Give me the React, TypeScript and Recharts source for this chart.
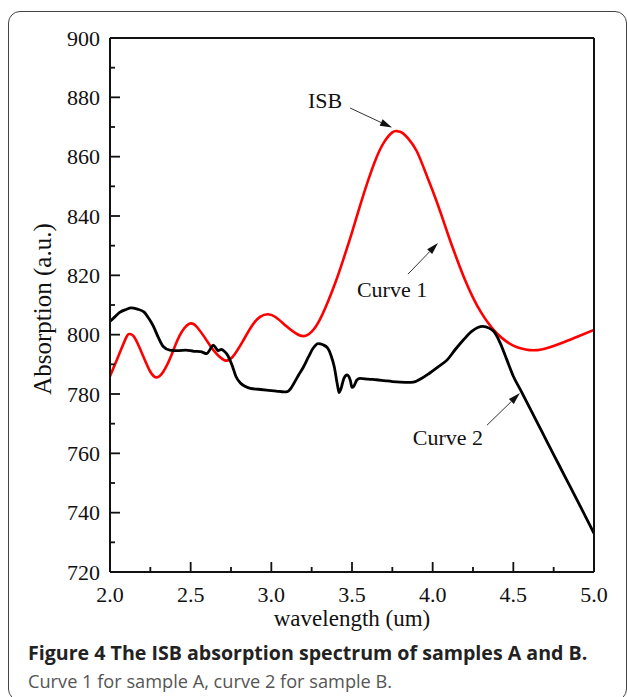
import React from "react";
import { LineChart, Line, XAxis, YAxis, ReferenceLine, ReferenceDot } from "recharts";

// curve 1 (sample A), red
const curve1Wavelength = [
  2.0, 2.05, 2.1, 2.12, 2.15, 2.2, 2.25, 2.29, 2.33, 2.38, 2.43, 2.49, 2.54, 2.6, 2.65, 2.71,
  2.76, 2.82, 2.88, 2.93, 2.98, 3.03, 3.09, 3.15, 3.2, 3.25, 3.3, 3.35, 3.4, 3.45, 3.5, 3.55,
  3.6, 3.65, 3.7, 3.75, 3.78, 3.81, 3.85, 3.9, 3.95, 4.0, 4.05, 4.1, 4.15, 4.2, 4.25, 4.3,
  4.35, 4.4, 4.45, 4.5, 4.55, 4.6, 4.65, 4.7, 4.8, 4.9, 5.0,
];
const curve1Absorption = [
  786, 792.5, 799, 800.2, 799.2, 793.5, 787.5, 785.6, 787.5, 793, 799.5, 803.6, 802.5, 798, 794.2, 791.4,
  792.5, 797.5, 803, 806, 806.9, 805.8, 803, 800.5, 799.5, 801, 805, 811, 818, 826, 834.5, 843.5,
  852, 859.5, 865, 868.2, 868.6, 868.1, 866, 862, 855.5, 848.5, 841, 833, 825.5, 818.5, 812.5, 807.5,
  803.5, 800.3, 798, 796.3, 795.3, 794.8, 794.8, 795.3, 797.2, 799.4, 801.6,
];

// curve 2 (sample B), black
const curve2Wavelength = [
  2.0, 2.03, 2.06, 2.1, 2.13, 2.17, 2.21, 2.24, 2.27, 2.3, 2.33, 2.37, 2.42, 2.47, 2.52, 2.56,
  2.6, 2.62, 2.64, 2.66, 2.67, 2.69, 2.71, 2.73, 2.76, 2.78, 2.81, 2.84, 2.87, 2.92, 2.97, 3.03,
  3.08, 3.1, 3.12, 3.14, 3.17, 3.2, 3.23, 3.26, 3.29, 3.32, 3.35, 3.37, 3.39, 3.41, 3.42, 3.43,
  3.45, 3.47, 3.49, 3.5, 3.51, 3.53, 3.55, 3.6, 3.65, 3.7, 3.75, 3.8, 3.85, 3.88, 3.93, 3.98,
  4.03, 4.09, 4.14, 4.19, 4.24, 4.28, 4.31, 4.35, 4.38, 4.42, 4.46, 4.5, 4.55, 4.6, 4.65, 4.71,
  4.78, 4.85, 4.92, 5.0,
];
const curve2Absorption = [
  804.5, 806, 807.5, 808.5, 809, 808.6, 807.7, 805.5, 802.7, 799, 796, 794.8, 794.6, 794.8, 794.4, 794.3,
  793.6, 795, 796.5, 795.2, 794.6, 795, 794.3, 793, 789.2, 786, 783.6, 782.5, 781.9, 781.6, 781.3, 781,
  780.7, 780.8, 781.8, 783.6, 786.5, 789.2, 792.5, 795.5, 797, 796.6, 795.4, 793, 789.2, 783, 780.5, 781.5,
  785.3, 786.4, 784.5, 782.2, 782.5, 784.7, 785.3, 785, 784.8, 784.5, 784.2, 784, 783.9, 784, 785.2, 787,
  789, 791.5, 795, 798.2, 801, 802.4, 802.8, 802.2, 801, 797, 791.5, 786, 780.8, 775.5, 770.2, 763.8,
  756.4, 749, 741.6, 733,
];

const xTicks = [2, 2.25, 2.5, 2.75, 3, 3.25, 3.5, 3.75, 4, 4.25, 4.5, 4.75, 5];
const xLabels = [2, 2.5, 3, 3.5, 4, 4.5, 5];
const yTicks = [720, 730, 740, 750, 760, 770, 780, 790, 800, 810, 820, 830, 840, 850, 860, 870, 880, 890, 900];
const yLabels = [720, 740, 760, 780, 800, 820, 840, 860, 880, 900];

const curve1 = curve1Wavelength.map((w, i) => ({ w, v: curve1Absorption[i] }));
const curve2 = curve2Wavelength.map((w, i) => ({ w, v: curve2Absorption[i] }));

const SERIF = "'Liberation Serif', 'Times New Roman', serif";
const SANS = "'Open Sans', 'Noto Sans', sans-serif";

const XTick = (p: any) => {
  const { x, y, payload } = p;
  const major = xLabels.includes(payload.value);
  return (
    <g>
      <line x1={x} x2={x} y1={y} y2={y - (major ? 10 : 5)} stroke="#111" strokeWidth={1.8} />
      {major && (
        <text x={x} y={y + 22} textAnchor="middle" dominantBaseline="central" fontFamily={SERIF} fontSize={22} fill="#111">
          {payload.value.toFixed(1)}
        </text>
      )}
    </g>
  );
};

const YTick = (p: any) => {
  const { x, y, payload } = p;
  const major = yLabels.includes(payload.value);
  return (
    <g>
      <line x1={x} x2={x + (major ? 10 : 5)} y1={y} y2={y} stroke="#111" strokeWidth={1.8} />
      {major && (
        <text x={x - 10} y={y} textAnchor="end" dominantBaseline="central" fontFamily={SERIF} fontSize={22} fill="#111">
          {payload.value}
        </text>
      )}
    </g>
  );
};

const arrow = (p: any) => {
  const { x1, y1, x2, y2 } = p;
  const a = Math.atan2(y2 - y1, x2 - x1);
  const len = 12;
  const half = 3.5;
  const bx = x2 - len * Math.cos(a);
  const by = y2 - len * Math.sin(a);
  const nx = -Math.sin(a) * half;
  const ny = Math.cos(a) * half;
  return (
    <g>
      <line x1={x1} y1={y1} x2={bx} y2={by} stroke="#333" strokeWidth={1} />
      <polygon points={`${x2},${y2} ${bx + nx},${by + ny} ${bx - nx},${by - ny}`} fill="#111" />
    </g>
  );
};

const label = (text: string) => (p: any) => (
  <text x={p.cx} y={p.cy} textAnchor="middle" dominantBaseline="central" fontFamily={SERIF} fontSize={22} fill="#111">
    {text}
  </text>
);

const axisLine = { stroke: "#111", strokeWidth: 2 };

export default function App() {
  return (
    <div style={{ position: "absolute", left: 0, top: 0, width: 627, height: 697, overflow: "hidden", background: "#fff" }}>
      <div
        style={{
          position: "absolute",
          left: 8,
          top: 11,
          width: 619,
          height: 690,
          border: "1.5px solid #444",
          borderRadius: 12,
          boxSizing: "border-box",
        }}
      />
      <LineChart width={627} height={697} margin={{ top: 37, right: 32, bottom: 124, left: 109 }} style={{ position: "absolute", left: 0, top: 0 }}>
        <XAxis
          dataKey="w"
          type="number"
          domain={[2, 5]}
          ticks={xTicks}
          interval={0}
          height={1}
          tickSize={0}
          tickMargin={0}
          tickLine={false}
          axisLine={axisLine}
          tick={(p: any) => <XTick {...p} />}
          allowDataOverflow
        />
        <XAxis xAxisId="top" orientation="top" type="number" domain={[2, 5]} height={1} tick={false} tickLine={false} axisLine={axisLine} />
        <YAxis
          type="number"
          domain={[720, 900]}
          ticks={yTicks}
          interval={0}
          width={1}
          tickSize={0}
          tickMargin={0}
          tickLine={false}
          axisLine={axisLine}
          tick={(p: any) => <YTick {...p} />}
          allowDataOverflow
        />
        <YAxis yAxisId="right" orientation="right" type="number" domain={[720, 900]} width={1} tick={false} tickLine={false} axisLine={axisLine} />
        <Line data={curve1} dataKey="v" type="natural" stroke="#ff0000" strokeWidth={2.6} dot={false} isAnimationActive={false} />
        <Line data={curve2} dataKey="v" type="monotone" stroke="#000" strokeWidth={2.8} dot={false} isAnimationActive={false} />

        <ReferenceDot x={3.333} y={879.1} r={0} shape={label("ISB")} />
        <ReferenceLine segment={[{ x: 3.488, y: 876.4 }, { x: 3.748, y: 869.8 }]} shape={arrow} />
        <ReferenceDot x={3.748} y={815.1} r={0} shape={label("Curve 1")} />
        <ReferenceLine segment={[{ x: 3.847, y: 820.4 }, { x: 4.033, y: 830.9 }]} shape={arrow} />
        <ReferenceDot x={4.095} y={765.2} r={0} shape={label("Curve 2")} />
        <ReferenceLine segment={[{ x: 4.337, y: 769.5 }, { x: 4.541, y: 780.3 }]} shape={arrow} />
      </LineChart>
      <div style={{ position: "absolute", left: 110, width: 484, top: 606, textAlign: "center", fontFamily: SERIF, fontSize: 23, color: "#111", lineHeight: "26px" }}>
        wavelength (um)
      </div>
      <div
        style={{
          position: "absolute",
          left: 43,
          top: 309,
          transform: "translate(-50%, -50%) rotate(-90deg)",
          whiteSpace: "nowrap",
          fontFamily: SERIF,
          fontSize: 25,
          color: "#111",
          lineHeight: "26px",
        }}
      >
        Absorption (a.u.)
      </div>
      <div style={{ position: "absolute", left: 28, top: 641, fontFamily: SANS, fontWeight: 700, fontSize: 19.6, color: "#222", whiteSpace: "nowrap", lineHeight: "24px" }}>
        Figure 4 The ISB absorption spectrum of samples A and B.
      </div>
      <div style={{ position: "absolute", left: 28, top: 669, fontFamily: SANS, fontSize: 18.2, color: "#555", whiteSpace: "nowrap", lineHeight: "24px" }}>
        Curve 1 for sample A, curve 2 for sample B.
      </div>
    </div>
  );
}
